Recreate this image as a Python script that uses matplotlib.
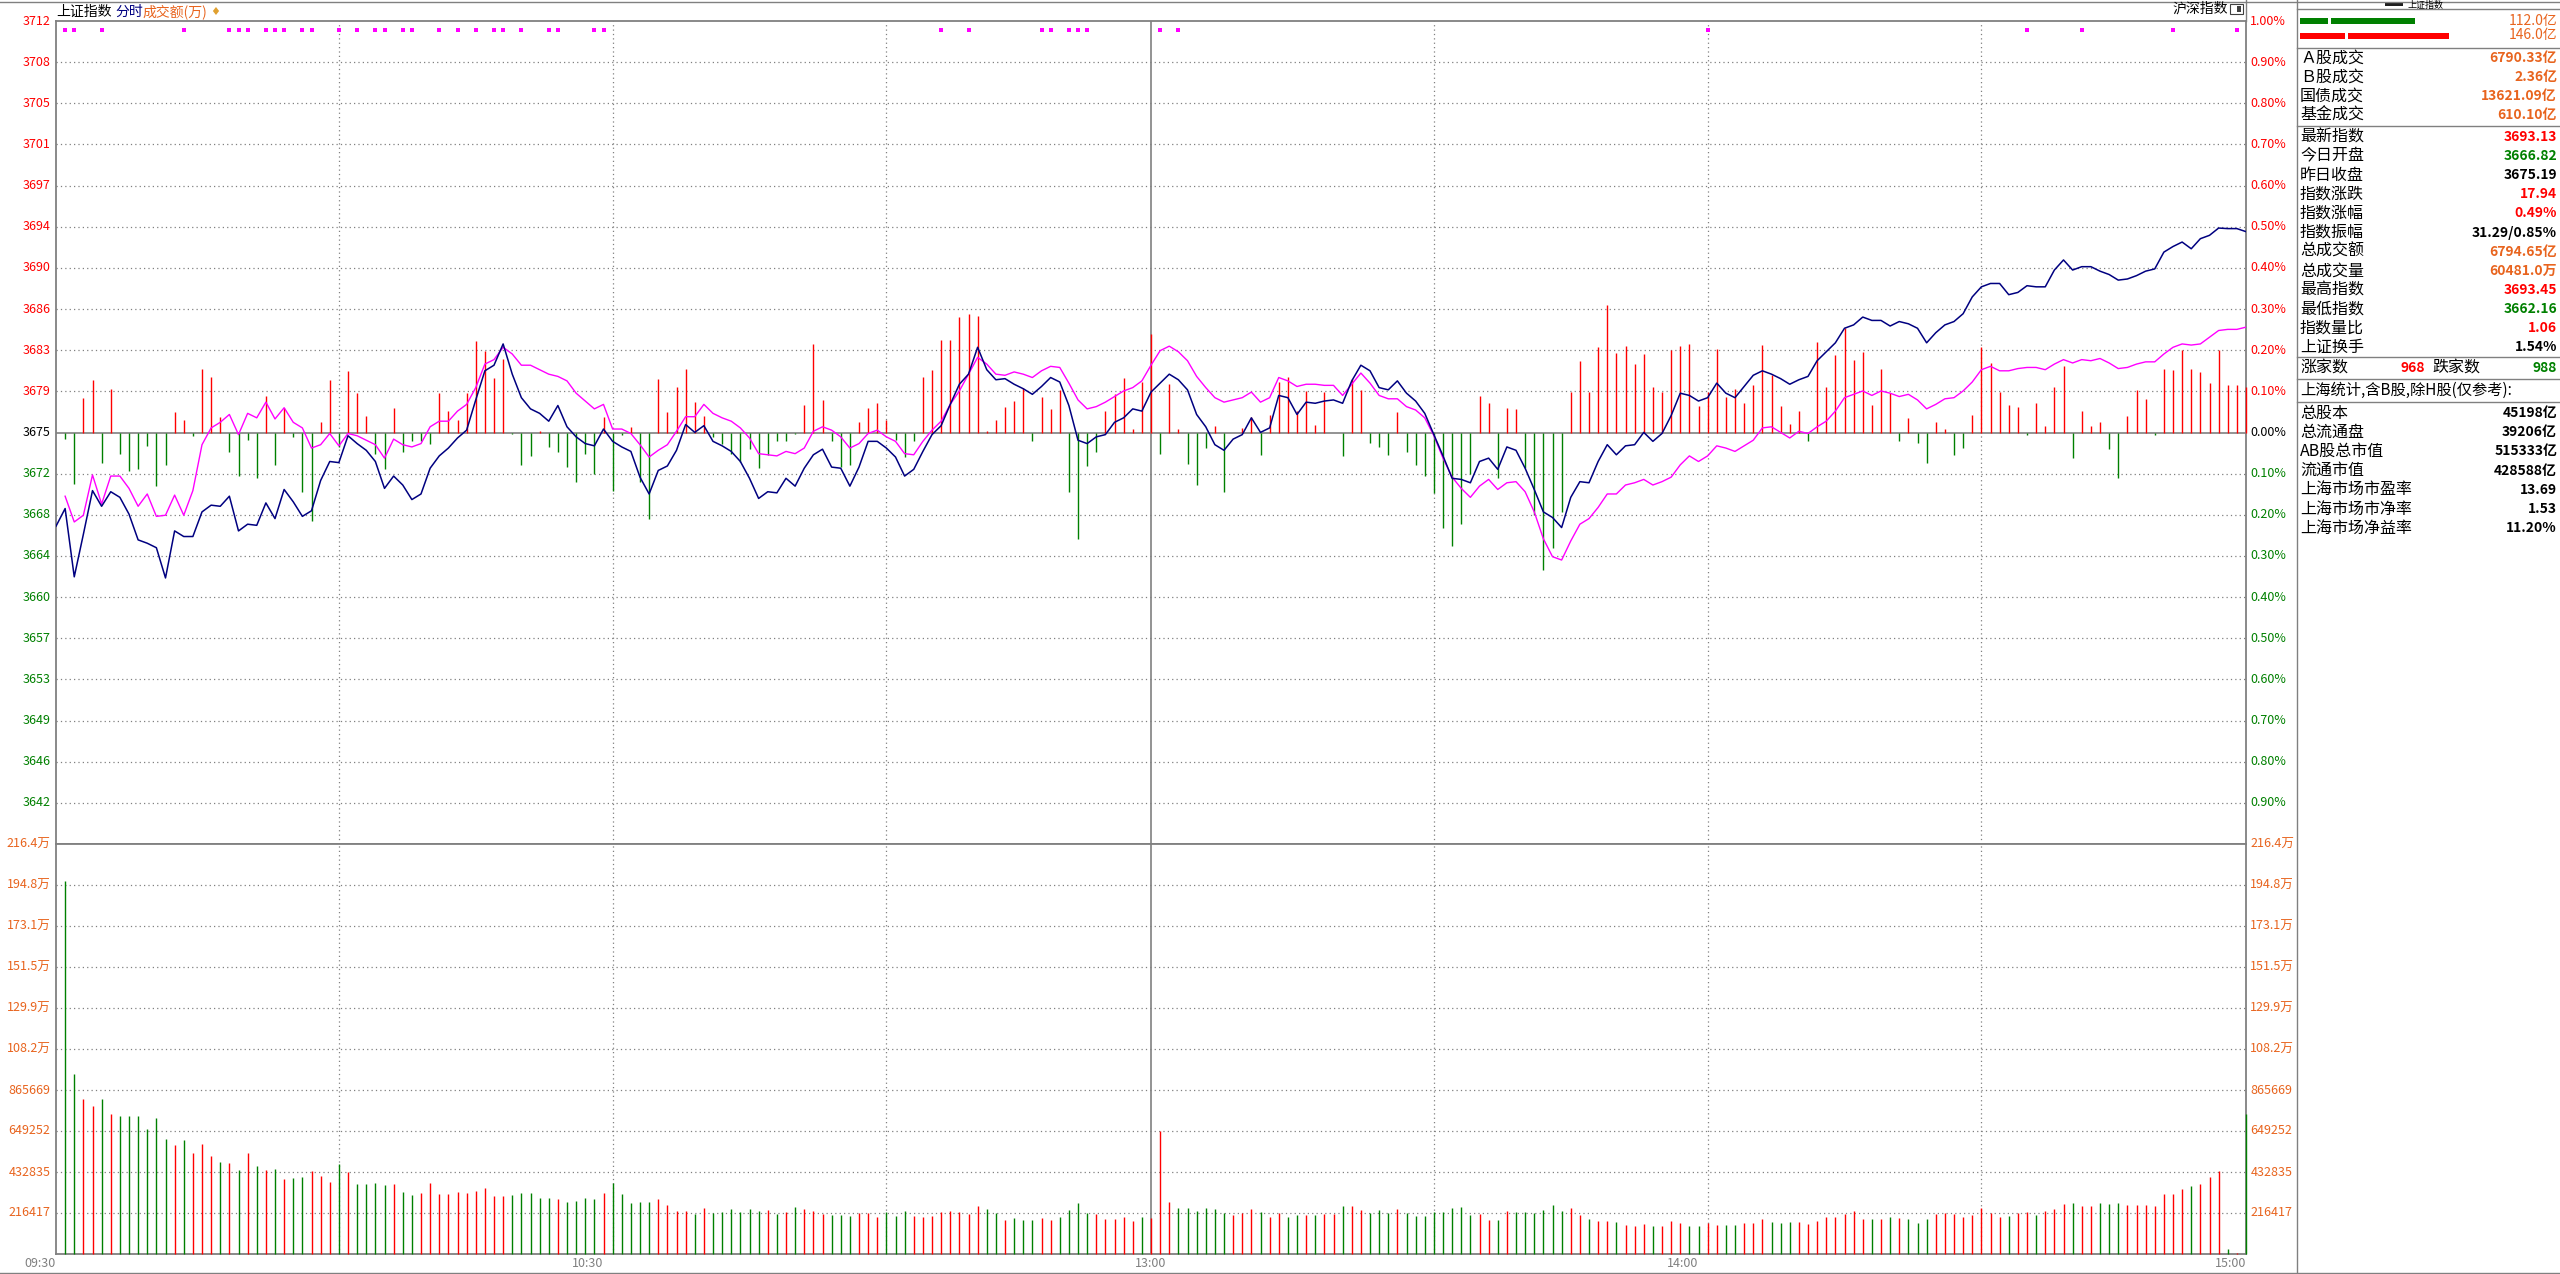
import matplotlib.pyplot as plt
import matplotlib.transforms as mtransforms
from matplotlib.lines import Line2D
from matplotlib.patches import Rectangle
import numpy as np

plt.rcParams['font.family'] = ['Noto Sans CJK SC', 'DejaVu Sans']

# ---- data ----
prev_close = 3675.19

# index level per minute, first value is the open (3666.82)
price = [3666.82,
         3668.4, 3662.3, 3666.1, 3670.0, 3668.6, 3669.9, 3669.4, 3667.9, 3665.6, 3665.3,
         3664.9, 3662.2, 3666.4, 3665.9, 3665.9, 3668.1, 3668.7, 3668.6, 3669.5, 3666.4,
         3667.0, 3666.9, 3668.9, 3667.5, 3670.1, 3669.0, 3667.7, 3668.2, 3670.9, 3672.6,
         3672.5, 3674.9, 3674.2, 3673.6, 3672.6, 3670.2, 3671.3, 3670.5, 3669.2, 3669.7,
         3672.0, 3673.1, 3673.8, 3674.7, 3675.4, 3678.1, 3680.7, 3681.2, 3683.1, 3680.4,
         3678.3, 3677.3, 3676.9, 3676.2, 3677.6, 3675.7, 3674.8, 3674.2, 3674.0, 3675.5,
         3674.4, 3673.9, 3673.5, 3671.2, 3669.7, 3671.8, 3672.2, 3673.6, 3675.9, 3675.2,
         3675.8, 3674.4, 3674.0, 3673.5, 3672.6, 3671.1, 3669.3, 3669.9, 3669.8, 3671.1,
         3670.4, 3672.0, 3673.2, 3673.7, 3672.1, 3672.0, 3670.4, 3672.1, 3674.4, 3674.4,
         3673.8, 3673.0, 3671.3, 3671.9, 3673.5, 3675.0, 3675.8, 3677.7, 3679.5, 3680.4,
         3682.8, 3680.8, 3679.9, 3680.0, 3679.5, 3679.1, 3678.6, 3679.3, 3680.1, 3679.7,
         3677.6, 3674.5, 3674.2, 3674.8, 3675.0, 3676.1, 3676.5, 3677.3, 3677.1, 3678.8,
         3679.6, 3680.4, 3679.9, 3679.0, 3676.8, 3675.7, 3674.1, 3673.6, 3674.6, 3675.0,
         3676.5, 3675.2, 3675.6, 3678.5, 3678.3, 3676.8, 3677.9, 3677.8, 3678.0, 3678.1,
         3677.8, 3679.8, 3681.2, 3680.7, 3679.2, 3679.0, 3679.8, 3678.7, 3678.0, 3676.9,
         3675.0, 3673.1, 3671.1, 3671.0, 3670.7, 3672.6, 3672.9, 3671.9, 3673.9, 3673.6,
         3672.0, 3670.1, 3668.1, 3667.6, 3666.7, 3669.4, 3670.8, 3670.7, 3672.6, 3674.1,
         3673.2, 3674.0, 3674.1, 3675.2, 3674.4, 3675.1, 3676.7, 3678.7, 3678.5, 3678.0,
         3678.3, 3679.6, 3678.7, 3678.3, 3679.3, 3680.3, 3680.7, 3680.4, 3680.0, 3679.5,
         3679.9, 3680.2, 3681.6, 3682.4, 3683.2, 3684.5, 3684.8, 3685.5, 3685.2, 3685.2,
         3684.7, 3685.1, 3684.9, 3684.5, 3683.2, 3684.1, 3684.8, 3685.1, 3685.8, 3687.3,
         3688.2, 3688.5, 3688.5, 3687.5, 3687.7, 3688.3, 3688.2, 3688.2, 3689.7, 3690.6,
         3689.7, 3690.0, 3690.0, 3689.6, 3689.3, 3688.8, 3688.9, 3689.2, 3689.6, 3689.8,
         3691.3, 3691.8, 3692.2, 3691.6, 3692.5, 3692.8, 3693.45, 3693.4, 3693.4, 3693.13]

# average (un-weighted) line, minutes 1..240
avg_line = [3669.5, 3667.2, 3667.8, 3671.4, 3668.8, 3671.3, 3671.3, 3670.2, 3668.6, 3669.7,
            3667.7, 3667.8, 3669.6, 3667.8, 3670.0, 3674.1, 3675.6, 3676.1, 3676.8, 3675.0,
            3676.9, 3676.5, 3677.9, 3676.4, 3677.4, 3676.1, 3675.6, 3673.8, 3674.1, 3675.1,
            3674.0, 3675.1, 3674.9, 3674.5, 3674.1, 3672.9, 3674.6, 3674.1, 3673.9, 3674.2,
            3675.7, 3676.2, 3676.2, 3677.1, 3677.7, 3679.2, 3681.3, 3681.7, 3682.8, 3682.2,
            3681.2, 3681.2, 3680.8, 3680.4, 3680.2, 3679.8, 3678.7, 3678.0, 3677.3, 3677.7,
            3675.5, 3675.5, 3675.1, 3674.1, 3673.0, 3673.6, 3674.1, 3675.3, 3676.6, 3676.6,
            3677.7, 3676.9, 3676.5, 3676.2, 3675.6, 3674.7, 3673.3, 3673.2, 3673.1, 3673.5,
            3673.3, 3673.8, 3675.3, 3675.7, 3675.4, 3674.8, 3673.8, 3674.2, 3675.1, 3675.4,
            3674.8, 3674.4, 3673.3, 3673.2, 3674.4, 3675.4, 3676.2, 3677.7, 3678.9, 3680.4,
            3681.9, 3681.3, 3680.4, 3680.3, 3680.6, 3680.4, 3680.1, 3680.7, 3681.1, 3681.0,
            3679.6, 3678.1, 3677.3, 3677.5, 3677.9, 3678.4, 3678.9, 3679.2, 3679.8, 3681.2,
            3682.5, 3682.9, 3682.4, 3681.6, 3680.2, 3679.2, 3678.3, 3677.9, 3678.1, 3678.3,
            3678.8, 3677.9, 3678.3, 3680.1, 3679.8, 3679.3, 3679.5, 3679.5, 3679.4, 3679.4,
            3678.5, 3679.5, 3680.5, 3679.6, 3678.5, 3678.2, 3678.2, 3677.5, 3677.2, 3676.5,
            3674.9, 3672.9, 3671.2, 3670.2, 3669.4, 3670.4, 3671.0, 3670.1, 3670.7, 3670.8,
            3669.9, 3668.1, 3665.7, 3664.1, 3663.8, 3665.5, 3667.0, 3667.5, 3668.5, 3669.7,
            3669.7, 3670.5, 3670.7, 3671.0, 3670.5, 3670.8, 3671.2, 3672.3, 3673.1, 3672.6,
            3673.1, 3674.0, 3673.8, 3673.5, 3674.0, 3674.5, 3675.6, 3675.7, 3675.2, 3674.7,
            3675.3, 3675.1, 3675.7, 3676.2, 3677.1, 3678.3, 3678.6, 3678.9, 3678.5, 3678.9,
            3678.7, 3678.4, 3678.6, 3678.1, 3677.3, 3677.7, 3678.2, 3678.3, 3678.9, 3679.7,
            3680.8, 3681.1, 3680.7, 3680.7, 3680.9, 3681.0, 3681.0, 3680.8, 3681.3, 3681.7,
            3681.4, 3681.7, 3681.6, 3681.8, 3681.4, 3680.9, 3681.0, 3681.3, 3681.5, 3681.5,
            3682.2, 3682.8, 3683.1, 3683.0, 3683.1, 3683.7, 3684.3, 3684.4, 3684.4, 3684.6]

# red/green strength bars around the zero line (index points)
strength = [-0.6, -4.6, 3.1, 4.7, -2.7, 3.9, -1.9, -3.4, -3.3, -1.2,
            -4.8, -2.9, 1.8, 1.1, -0.3, 5.7, 5.0, 1.4, -1.7, -3.9,
            -0.7, -4.1, 3.3, -2.9, 2.2, -0.4, -5.3, -7.9, 0.9, 4.7,
            -1.3, 5.5, 3.5, 1.5, -1.9, -3.3, 2.2, -1.7, -0.8, -0.8,
            -1.0, 3.5, 1.9, 1.1, 3.5, 8.2, 7.3, 4.9, 6.6, -0.1,
            -2.9, -2.1, 0.15, -1.3, -1.7, -3.1, -4.4, -1.9, -3.7, 1.4,
            -5.2, -0.2, 0.5, -4.4, -7.7, 4.8, 1.8, 4.1, 5.7, 2.7,
            1.5, -0.4, -1.0, -1.9, -2.6, -1.5, -3.2, -2.0, -0.8, -0.75,
            -0.1, 2.5, 7.9, 2.9, -0.75, -3.1, -2.9, 0.9, 2.2, 2.6,
            1.1, -0.7, -2.2, -0.8, 5.0, 5.6, 8.3, 8.3, 10.3, 10.6,
            10.4, 0.15, 1.1, 2.3, 2.8, 4.0, -0.8, 3.2, 2.1, 3.8,
            -5.3, -9.5, -3.0, -1.7, 1.9, 3.4, 4.9, 0.3, 4.5, 8.8,
            -1.9, 4.3, 0.3, -2.8, -4.65, -1.4, 0.6, -5.3, 0.0, 0.4,
            1.4, -2.0, 1.6, 4.5, 5.0, 1.9, 3.75, 0.7, 3.6, 0.0,
            -2.1, 4.8, 3.8, -0.9, -1.3, -2.0, 1.8, -1.7, -2.9, -3.9,
            -5.4, -8.5, -10.1, -8.2, -3.75, 3.3, 2.6, -4.05, 2.2, 2.1,
            -3.2, -7.4, -12.3, -10.35, -7.1, 3.6, 6.4, 3.6, 7.65, 11.4,
            7.1, 7.7, 6.1, 7.05, 4.05, 3.6, 7.4, 7.7, 7.9, 2.4,
            3.6, 7.5, 3.2, 3.9, 2.6, 4.2, 7.8, 5.1, 2.4, 0.75,
            1.9, -0.8, 8.1, 4.05, 6.9, 9.3, 6.5, 7.2, 2.5, 5.7,
            3.5, -0.8, 1.3, -0.9, -2.7, 0.9, 0.3, -2.0, -1.4, 1.6,
            7.65, 6.2, 3.6, 2.5, 2.3, -0.25, 2.6, 0.6, 4.05, 5.9,
            -2.3, 1.9, 0.6, 0.9, -1.5, -4.1, 1.5, 3.8, 3.0, -0.25,
            5.7, 5.6, 7.4, 5.7, 5.4, 4.4, 7.4, 4.2, 4.2, 4.1]

# volume per minute (手)
volume = [1970000, 948000, 816000, 780000, 816000, 737000, 727000, 727000, 727000, 658000,
          716000, 605000, 574000, 600000, 531000, 579000, 516000, 484000, 479000, 442000,
          531000, 463000, 442000, 447000, 394000, 399000, 405000, 436000, 410000, 378000,
          473000, 431000, 368000, 368000, 373000, 363000, 368000, 326000, 310000, 320000,
          373000, 315000, 315000, 326000, 320000, 331000, 347000, 304000, 304000, 310000,
          320000, 320000, 294000, 294000, 289000, 273000, 278000, 294000, 289000, 320000,
          373000, 315000, 267000, 273000, 273000, 289000, 257000, 225000, 225000, 209000,
          241000, 215000, 220000, 236000, 220000, 236000, 225000, 231000, 209000, 220000,
          246000, 236000, 225000, 209000, 204000, 204000, 199000, 215000, 215000, 194000,
          220000, 199000, 225000, 199000, 194000, 199000, 220000, 225000, 220000, 209000,
          252000, 236000, 215000, 178000, 188000, 178000, 178000, 188000, 178000, 194000,
          231000, 267000, 215000, 209000, 183000, 183000, 194000, 172000, 194000, 188000,
          651000, 273000, 241000, 241000, 225000, 241000, 236000, 215000, 204000, 215000,
          236000, 220000, 194000, 215000, 194000, 204000, 204000, 204000, 209000, 209000,
          252000, 252000, 231000, 215000, 231000, 215000, 236000, 215000, 199000, 199000,
          220000, 220000, 241000, 246000, 204000, 209000, 178000, 178000, 225000, 220000,
          220000, 215000, 231000, 257000, 225000, 241000, 204000, 183000, 172000, 172000,
          167000, 151000, 146000, 157000, 146000, 146000, 172000, 162000, 146000, 146000,
          162000, 151000, 151000, 151000, 162000, 162000, 183000, 167000, 162000, 167000,
          167000, 157000, 172000, 194000, 194000, 209000, 225000, 183000, 183000, 183000,
          194000, 188000, 183000, 162000, 183000, 209000, 215000, 209000, 194000, 204000,
          241000, 215000, 194000, 199000, 215000, 220000, 204000, 225000, 236000, 262000,
          267000, 252000, 252000, 267000, 262000, 267000, 257000, 257000, 257000, 252000,
          315000, 315000, 341000, 357000, 368000, 405000, 436000, 25000, 5000, 737000]

# minutes flagged with magenta markers along the top
dot_minutes = [1, 2, 5, 14, 19, 20, 21, 23, 24, 25, 27, 28, 31, 33, 35, 36, 38, 39, 42, 44,
               46, 48, 49, 51, 54, 55, 59, 60, 97, 100, 108, 109, 111, 112, 113, 121, 123,
               181, 216, 222, 232, 239]

price_labels = ['3712', '3708', '3705', '3701', '3697', '3694', '3690', '3686', '3683', '3679',
                '3675', '3672', '3668', '3664', '3660', '3657', '3653', '3649', '3646', '3642']
pct_labels = ['1.00%', '0.90%', '0.80%', '0.70%', '0.60%', '0.50%', '0.40%', '0.30%', '0.20%', '0.10%',
              '0.00%', '0.10%', '0.20%', '0.30%', '0.40%', '0.50%', '0.60%', '0.70%', '0.80%', '0.90%']
vol_step = 216417
vol_labels = ['216.4万', '194.8万', '173.1万', '151.5万', '129.9万', '108.2万',
              '865669', '649252', '432835', '216417']
time_labels = ['09:30', '10:30', '13:00', '14:00', '15:00']
time_pos = [0, 60, 120, 180, 240]

amount_bars = [112.0, 146.0]

RED = '#FF0000'
GREEN = '#008000'
NAVY = '#000080'
MAG = '#FF00FF'
ORANGE = '#E8641E'
GRAY = '#808080'

panel_a = [('Ａ股成交', '6790.33亿', ORANGE), ('Ｂ股成交', '2.36亿', ORANGE),
           ('国债成交', '13621.09亿', ORANGE), ('基金成交', '610.10亿', ORANGE)]
panel_b = [('最新指数', '3693.13', RED), ('今日开盘', '3666.82', GREEN),
           ('昨日收盘', '3675.19', 'black'), ('指数涨跌', '17.94', RED),
           ('指数涨幅', '0.49%', RED), ('指数振幅', '31.29/0.85%', 'black'),
           ('总成交额', '6794.65亿', ORANGE), ('总成交量', '60481.0万', ORANGE),
           ('最高指数', '3693.45', RED), ('最低指数', '3662.16', GREEN),
           ('指数量比', '1.06', RED), ('上证换手', '1.54%', 'black')]
panel_c = [('总股本', '45198亿'), ('总流通盘', '39206亿'), ('AB股总市值', '515333亿'),
           ('流通市值', '428588亿'), ('上海市场市盈率', '13.69'), ('上海市场市净率', '1.53'),
           ('上海市场净益率', '11.20%')]

# ---- figure ----
W, H = 2560, 1274
fig = plt.figure(figsize=(W / 100, H / 100), dpi=100)


def box(x0, y0, x1, y1):
    return [x0 / W, 1 - y1 / H, (x1 - x0) / W, (y1 - y0) / H]


def ftext(x, y, s, **kw):
    kw.setdefault('va', 'center')
    fig.text(x / W, 1 - y / H, s, **kw)


def fline(x0, y0, x1, y1, **kw):
    fig.add_artist(Line2D([x0 / W, x1 / W], [1 - y0 / H, 1 - y1 / H],
                          transform=fig.transFigure, color=GRAY, lw=1, **kw))


ax = fig.add_axes(box(56, 21, 2246, 844))
axv = fig.add_axes(box(56, 844, 2246, 1254))

for a in (ax, axv):
    a.set_xlim(0, 240)
    a.set_xticks([])
    a.set_yticks([])
    for s in a.spines.values():
        s.set_color(GRAY)
        s.set_linewidth(1.3)

ax.set_ylim(prev_close * 0.99, prev_close * 1.01)
axv.set_ylim(0, vol_step * 10)

dot = (0, (1, 2.5))
for k in range(-9, 10):
    lvl = prev_close * (1 + k / 1000)
    if k == 0:
        ax.axhline(lvl, color=GRAY, lw=1.2, zorder=2)
    else:
        ax.axhline(lvl, color=GRAY, lw=0.9, ls=dot, zorder=1)
for k in range(1, 10):
    axv.axhline(k * vol_step, color=GRAY, lw=0.9, ls=dot, zorder=1)
for a in (ax, axv):
    for m in [31, 61, 91, 151, 181, 211]:
        a.axvline(m, color=GRAY, lw=0.9, ls=dot, zorder=1)
    a.axvline(120, color=GRAY, lw=1.2, zorder=1)

mins = np.arange(1, 241)
p = np.array(price)
st = np.array(strength)
ax.vlines(mins, prev_close, prev_close + st, colors=np.where(st >= 0, RED, GREEN), lw=1.0,
          zorder=3, clip_on=False)
ax.plot(mins, avg_line, color=MAG, lw=1.0, zorder=4)
ax.plot(np.arange(0, 241), p, color=NAVY, lw=1.1, zorder=5)

mk = mtransforms.blended_transform_factory(ax.transData, ax.transAxes)
ax.scatter(dot_minutes, [0.989] * len(dot_minutes), transform=mk, marker='s', s=5,
           color=MAG, lw=0, zorder=6)

ref = np.r_[prev_close, p[1:-1]]
vcol = np.where(p[1:] >= ref, RED, GREEN)
axv.vlines(mins, 0, volume, colors=vcol, lw=1.0, zorder=3, clip_on=False)

# axis labels
ly = ax.get_yaxis_transform()
for j, k in enumerate(range(10, -10, -1)):
    lvl = prev_close * (1 + k / 1000)
    c = RED if k > 0 else ('black' if k == 0 else GREEN)
    ax.text(-0.0025, lvl, price_labels[j], transform=ly, ha='right', va='center', color=c, fontsize=9)
    ax.text(1.002, lvl, pct_labels[j], transform=ly, ha='left', va='center', color=c, fontsize=9)

vy = axv.get_yaxis_transform()
for j, k in enumerate(range(10, 0, -1)):
    axv.text(-0.0025, k * vol_step, vol_labels[j], transform=vy, ha='right', va='center',
             color=ORANGE, fontsize=9)
    axv.text(1.002, k * vol_step, vol_labels[j], transform=vy, ha='left', va='center',
             color=ORANGE, fontsize=9)

tx = axv.get_xaxis_transform()
for lab, pos in zip(time_labels, time_pos):
    ha = 'center' if pos == 120 else 'right'
    axv.text(pos, -0.022, lab, transform=tx, ha=ha, va='center', color=GRAY, fontsize=9)

# header
ftext(56, 12, '上证指数', color='black', fontsize=10)
ftext(115, 12, '分时', color=NAVY, fontsize=10)
ftext(142, 12, '成交额(万)', color=ORANGE, fontsize=10)
ftext(210, 12, '♦', color='#E0A030', fontsize=8, family='DejaVu Sans')
ftext(2172, 9, '沪深指数', color='black', fontsize=10)
fig.add_artist(Rectangle((2230 / W, 1 - 14 / H), 13 / W, 10 / H, transform=fig.transFigure,
                         fill=False, ec='#404040', lw=0.8))
fig.add_artist(Rectangle((2237 / W, 1 - 12 / H), 4 / W, 6 / H, transform=fig.transFigure,
                         color='#404040', lw=0))

# frame lines
fline(0, 1.5, W, 1.5)
fline(0, 1273, W, 1273)
fline(2246, 0, 2246, 21)
fline(2297, 0, 2297, H)
for y in [9.3, 47.7, 126, 357, 379, 401.7]:
    fline(2297, y, W, y)

# right panel
ftext(2407, 5, '上证指数', color='black', fontsize=6.5)
fig.add_artist(Rectangle((2385 / W, 1 - 6 / H), 18 / W, 3 / H, transform=fig.transFigure,
                         color='#202020', lw=0))
for val, y, col, frac in [(amount_bars[0], 21, GREEN, 0.25), (amount_bars[1], 36, RED, 0.31)]:
    seg1 = val * frac
    seg2 = val - seg1
    fig.add_artist(Rectangle((2300 / W, 1 - (y + 3) / H), seg1 / W, 6 / H,
                             transform=fig.transFigure, color=col, lw=0))
    fig.add_artist(Rectangle(((2303 + seg1) / W, 1 - (y + 3) / H), seg2 / W, 6 / H,
                             transform=fig.transFigure, color=col, lw=0))
    ftext(2557, y - 0.5, f'{val:.1f}亿', color=ORANGE, fontsize=10, ha='right')

for j, (name, val, col) in enumerate(panel_a):
    y = 58 + j * 19
    ftext(2300, y, name, color='black', fontsize=11.5)
    ftext(2557, y, val, color=col, fontsize=10, ha='right', fontweight='bold')

for j, (name, val, col) in enumerate(panel_b):
    y = 137 + j * 19.1
    ftext(2300, y, name, color='black', fontsize=11.5)
    ftext(2557, y, val, color=col, fontsize=10, ha='right', fontweight='bold')

ftext(2300, 368, '涨家数', color='black', fontsize=11.5)
ftext(2425, 368, '968', color=RED, fontsize=10, ha='right', fontweight='bold')
ftext(2432, 368, '跌家数', color='black', fontsize=11.5)
ftext(2557, 368, '988', color=GREEN, fontsize=10, ha='right', fontweight='bold')
ftext(2300, 390, '上海统计,含B股,除H股(仅参考):', color='black', fontsize=11)

for j, (name, val) in enumerate(panel_c):
    y = 413 + j * 19.2
    ftext(2300, y, name, color='black', fontsize=11.5)
    ftext(2557, y, val, color='black', fontsize=10, ha='right', fontweight='bold')

fig.savefig('out.png', dpi=100, facecolor='white')
